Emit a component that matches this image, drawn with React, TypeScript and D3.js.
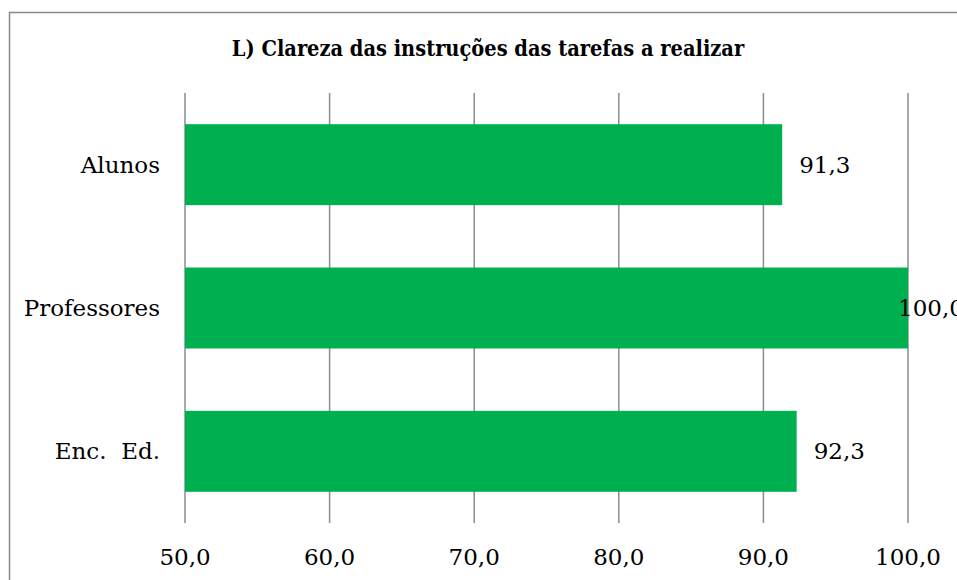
import React, { useEffect, useRef } from "react";
import * as d3 from "d3";

const categories = ["Alunos", "Professores", "Enc.  Ed."];
const values = [91.3, 100.0, 92.3];
const xTicks = [50, 60, 70, 80, 90, 100];
const title = "L) Clareza das instruções das tarefas a realizar";

const width = 957;
const height = 580;
const plot = { left: 185, right: 908, top: 93, bottom: 523 };
const fmt = (v: number) => v.toFixed(1).replace(".", ",");

export default function App() {
  const ref = useRef<SVGSVGElement>(null);

  useEffect(() => {
    const svg = d3.select(ref.current);
    svg.selectAll("*").remove();

    const x = d3.scaleLinear().domain([50, 100]).range([plot.left, plot.right]);
    const y = d3
      .scaleBand()
      .domain(categories)
      .range([plot.top, plot.bottom])
      .paddingInner(0.435)
      .paddingOuter(0.2175);

    // chart border (right/bottom edges fall outside the picture)
    svg
      .append("rect")
      .attr("x", 9.5)
      .attr("y", 12.5)
      .attr("width", width + 20)
      .attr("height", height + 20)
      .attr("fill", "white")
      .attr("stroke", "#898989")
      .attr("stroke-width", 1.5);

    svg
      .append("text")
      .attr("x", 488)
      .attr("y", 56)
      .attr("text-anchor", "middle")
      .attr("font-family", "'DejaVu Serif Condensed', 'DejaVu Serif', serif")
      .attr("font-stretch", "condensed")
      .attr("font-weight", "bold")
      .attr("font-size", 21.6)
      .attr("fill", "#000")
      .text(title);

    // gridlines
    svg
      .append("g")
      .selectAll("line")
      .data(xTicks)
      .join("line")
      .attr("x1", (d) => x(d))
      .attr("x2", (d) => x(d))
      .attr("y1", plot.top)
      .attr("y2", plot.bottom)
      .attr("stroke", "#8c8c8c")
      .attr("stroke-width", 1.5);

    // bars
    svg
      .append("g")
      .selectAll("rect")
      .data(values)
      .join("rect")
      .attr("x", x(50))
      .attr("y", (_, i) => y(categories[i])!)
      .attr("width", (d) => x(d) - x(50))
      .attr("height", y.bandwidth())
      .attr("fill", "#00b050");

    const font = "'DejaVu Serif', serif";

    // value labels, kept inside the plot on the right
    svg
      .append("g")
      .selectAll("text")
      .data(values)
      .join("text")
      .attr("x", (d) => Math.min(x(d) + 17, plot.right - 10))
      .attr("y", (_, i) => y(categories[i])! + y.bandwidth() / 2)
      .attr("dy", "0.35em")
      .attr("font-family", font)
      .attr("font-size", 23)
      .attr("fill", "#000")
      .text((d) => fmt(d));

    // category labels
    svg
      .append("g")
      .selectAll("text")
      .data(categories)
      .join("text")
      .attr("x", 160)
      .attr("y", (d) => y(d)! + y.bandwidth() / 2)
      .attr("dy", "0.35em")
      .attr("text-anchor", "end")
      .attr("font-family", font)
      .attr("font-size", 23)
      .attr("fill", "#000")
      .style("white-space", "pre")
      .text((d) => d);

    // x tick labels
    svg
      .append("g")
      .selectAll("text")
      .data(xTicks)
      .join("text")
      .attr("x", (d) => x(d))
      .attr("y", 565)
      .attr("text-anchor", "middle")
      .attr("font-family", font)
      .attr("font-size", 23)
      .attr("fill", "#000")
      .text((d) => fmt(d));
  }, []);

  return (
    <svg
      ref={ref}
      width={width}
      height={height}
      style={{ position: "absolute", left: 0, top: 0 }}
    />
  );
}
